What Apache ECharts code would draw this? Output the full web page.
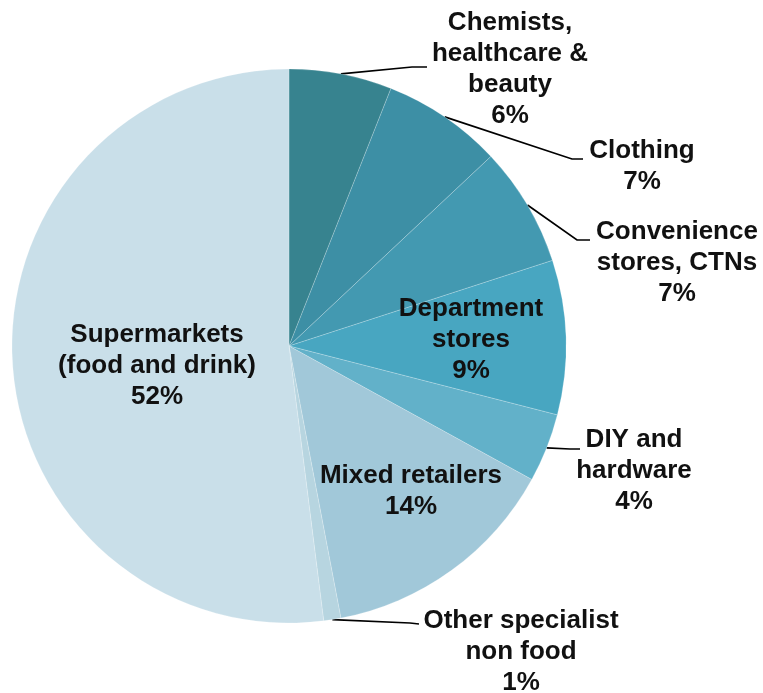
<!DOCTYPE html>
<html>
<head>
<meta charset="utf-8">
<script src="https://cdn.jsdelivr.net/npm/echarts@6/dist/echarts.min.js"></script>
<style>
  html, body { margin: 0; padding: 0; background: #ffffff; }
  #chart { width: 763px; height: 693px; }
</style>
</head>
<body>
<div id="chart"></div>
<script>
// Retail sales share by store type (percent)
const categories = [
  'Chemists,\nhealthcare &\nbeauty',
  'Clothing',
  'Convenience\nstores, CTNs',
  'Department\nstores',
  'DIY and\nhardware',
  'Mixed retailers',
  'Other specialist\nnon food',
  'Supermarkets\n(food and drink)'
];
const shares = [6, 7, 7, 9, 4, 14, 1, 52];

// Slice fills, dark teal through to pale blue
const sliceColors = [
  '#37838f', '#3d8fa5', '#4399b1', '#48a6c1',
  '#62b1c9', '#a1c8d9', '#b7d5e0', '#c9dfe9'
];

// Which labels sit inside their slice
const insideLabel = [false, false, false, true, false, true, false, true];

// Label block centres and leader-line elbow/end points (layout only)
const labelPlacement = [
  { x: 510, y: 69,  elbow: [412, 67],  end: [427, 67] },
  { x: 642, y: 166, elbow: [572, 159], end: [583, 159] },
  { x: 677, y: 263, elbow: [577, 240], end: [590, 240] },
  { x: 471, y: 340 },
  { x: 634, y: 471, elbow: [570, 449], end: [580, 449] },
  { x: 411, y: 491 },
  { x: 521, y: 652, elbow: [410, 623], end: [419, 624] },
  { x: 157, y: 366 }
];

const CX = 289, CY = 346, R = 277;

const total = shares.reduce((a, b) => a + b, 0);
function edgeAnchor(i) {
  let before = 0;
  for (let k = 0; k < i; k++) before += shares[k];
  const mid = (before + shares[i] / 2) / total * Math.PI * 2;
  return [CX + R * Math.sin(mid), CY - R * Math.cos(mid)];
}

const data = categories.map((name, i) => ({
  name: name,
  value: shares[i],
  itemStyle: { color: sliceColors[i] },
  label: { position: insideLabel[i] ? 'inside' : 'outside' },
  labelLine: { show: !insideLabel[i] }
}));

const chart = echarts.init(document.getElementById('chart'), null, { renderer: 'canvas' });
chart.setOption({
  backgroundColor: '#ffffff',
  animation: false,
  series: [{
    type: 'pie',
    center: [CX, CY],
    radius: [0, R],
    startAngle: 90,
    clockwise: true,
    avoidLabelOverlap: false,
    emphasis: { disabled: true },
    itemStyle: { borderColor: 'rgba(255,255,255,0.4)', borderWidth: 0.5 },
    label: {
      show: true,
      formatter: '{b}\n{c}%',
      fontFamily: 'Liberation Sans, Arial, sans-serif',
      fontWeight: 'bold',
      fontSize: 26,
      lineHeight: 31,
      color: '#111111',
      align: 'center'
    },
    labelLine: {
      lineStyle: { color: '#000000', width: 1.7 }
    },
    labelLayout: function (params) {
      const i = params.dataIndex;
      const p = labelPlacement[i];
      const out = { x: p.x, y: p.y, align: 'center', verticalAlign: 'middle' };
      if (p.elbow) {
        const a = (params.labelLinePoints && params.labelLinePoints[0]) || edgeAnchor(i);
        out.labelLinePoints = [a, p.elbow, p.end];
      }
      return out;
    },
    data: data
  }]
});
</script>
</body>
</html>
